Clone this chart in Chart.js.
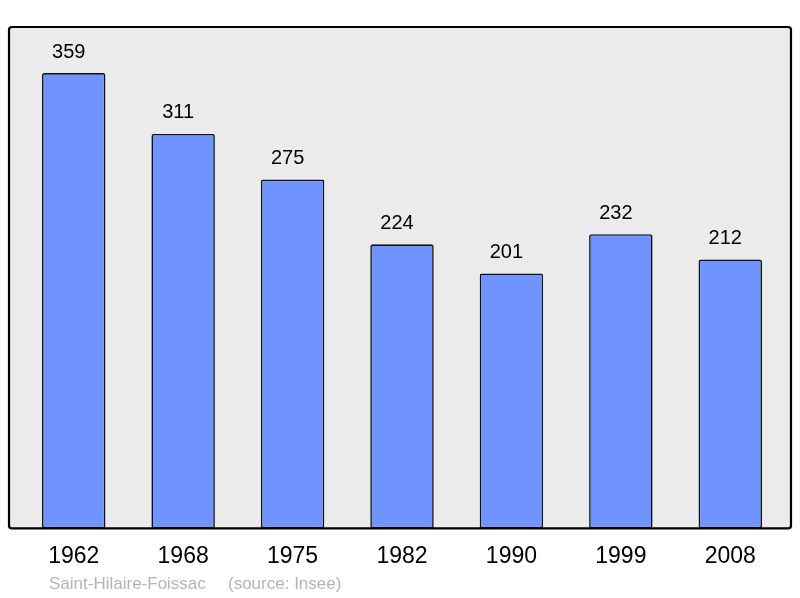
<!DOCTYPE html>
<html>
<head>
<meta charset="utf-8">
<script src="https://cdn.jsdelivr.net/npm/chart.js@4/dist/chart.umd.min.js"></script>
<style>
  html, body { margin: 0; padding: 0; background: #fff; }
  #wrap { width: 800px; height: 598px; position: relative; }
</style>
</head>
<body>
<div id="wrap"><canvas id="popChart"></canvas></div>
<script>
// Population data (source: Insee)
const years = ['1962', '1968', '1975', '1982', '1990', '1999', '2008'];
const population = [359, 311, 275, 224, 201, 232, 212];
const townName = 'Saint-Hilaire-Foissac';
const sourceText = '(source: Insee)';

const FONT = '"Liberation Sans", Arial, sans-serif';

// grey framed plot background, a bit wider than the category area
function frameRect(chartArea) {
    return {
        x: chartArea.left - 10,
        y: chartArea.top,
        w: chartArea.right - chartArea.left + 16,
        h: chartArea.bottom - chartArea.top
    };
}

const framePlugin = {
    id: 'frame',
    beforeDatasetsDraw(chart) {
        const { ctx } = chart;
        const r = frameRect(chart.chartArea);
        ctx.save();
        ctx.beginPath();
        ctx.roundRect(r.x, r.y, r.w, r.h, 3);
        ctx.fillStyle = '#ebebeb';
        ctx.fill();
        ctx.restore();
    },
    afterDatasetsDraw(chart) {
        const { ctx } = chart;
        const r = frameRect(chart.chartArea);
        ctx.save();
        ctx.beginPath();
        ctx.roundRect(r.x, r.y, r.w, r.h, 3);
        ctx.lineWidth = 2.2;
        ctx.strokeStyle = '#000';
        ctx.stroke();

        // values above the bars
        ctx.font = '20px ' + FONT;
        ctx.fillStyle = '#000';
        ctx.textAlign = 'center';
        ctx.textBaseline = 'middle';
        chart.getDatasetMeta(0).data.forEach((bar, i) => {
            ctx.fillText(String(population[i]), bar.x - 5, bar.y - 21);
        });

        // footer
        ctx.font = '17px ' + FONT;
        ctx.fillStyle = '#b4b4b4';
        ctx.textAlign = 'left';
        ctx.fillText(townName, 49, 584);
        ctx.fillText(sourceText, 228, 584);
        ctx.restore();
    }
};

const ctx = document.getElementById('popChart').getContext('2d');
new Chart(ctx, {
    type: 'bar',
    data: {
        labels: years,
        datasets: [{
            data: population,
            backgroundColor: '#7094ff',
            borderColor: '#111',
            borderWidth: 1.6,
            borderRadius: 2,
            borderSkipped: false,
            barPercentage: 0.58,
            categoryPercentage: 1.0
        }]
    },
    options: {
        responsive: true,
        maintainAspectRatio: false,
        animation: false,
        layout: {
            padding: { left: 19, right: 15, top: 27, bottom: 14 }
        },
        scales: {
            y: {
                display: false,
                min: 0,
                max: 395.3
            },
            x: {
                grid: { display: false, drawTicks: false },
                border: { display: false },
                ticks: {
                    color: '#000',
                    padding: 14,
                    font: { family: FONT, size: 23 }
                }
            }
        },
        plugins: {
            legend: { display: false },
            tooltip: { enabled: false }
        }
    },
    plugins: [framePlugin]
});
</script>
</body>
</html>
